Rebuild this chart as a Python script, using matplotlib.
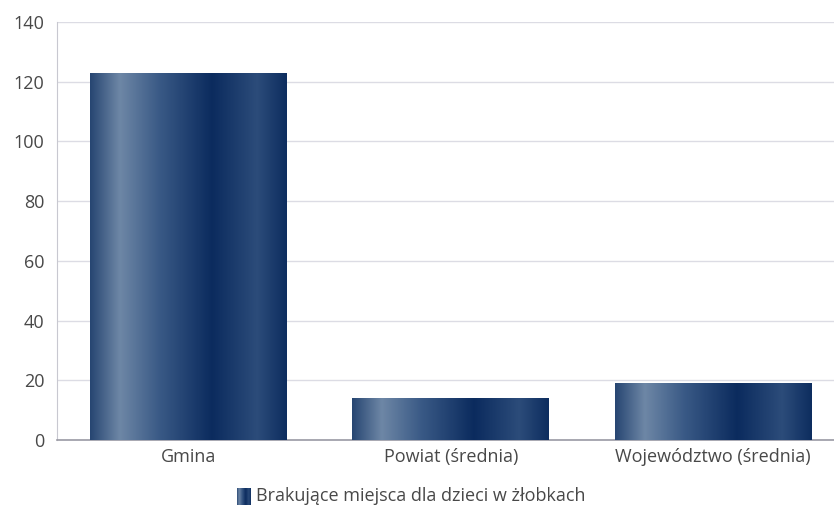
import matplotlib.pyplot as plt
import numpy as np
from matplotlib.colors import LinearSegmentedColormap

categories = ["Gmina", "Powiat (średnia)", "Województwo (średnia)"]
values = [123, 14, 19]
series_label = "Brakujące miejsca dla dzieci w żłobkach"
y_ticks = [0, 20, 40, 60, 80, 100, 120, 140]

plt.rcParams["font.family"] = ["Open Sans", "DejaVu Sans"]
TEXT = "#484848"

# metallic navy shading across each bar
shade = LinearSegmentedColormap.from_list("bar", [
    (0.00, "#274672"),
    (0.15, "#6e87a6"),
    (0.35, "#3a5a86"),
    (0.62, "#0b2b5e"),
    (0.85, "#2c4c7a"),
    (1.00, "#0d2d5f"),
])
grad = np.linspace(0, 1, 256).reshape(1, -1)

fig = plt.figure(figsize=(8.34, 5.07), dpi=100)
ax = fig.add_axes([0.0683, 0.132, 0.9317, 0.8245])

x = np.arange(len(categories))
bars = ax.bar(x, values, width=0.75, color="none", zorder=3)
for b in bars:
    x0, w, h = b.get_x(), b.get_width(), b.get_height()
    im = ax.imshow(grad, cmap=shade, aspect="auto", extent=(x0, x0 + w, 0, h),
                   zorder=3, interpolation="bicubic")
    im.set_clip_path(b)

ax.set_xlim(-0.5, 2.46)
ax.set_ylim(0, 140)
ax.set_yticks(y_ticks)
ax.set_xticks(x)
ax.set_xticklabels(categories)
ax.grid(axis="y", color="#dcdce4", linewidth=1, zorder=0)
ax.set_axisbelow(True)
ax.tick_params(axis="both", length=0, labelsize=13, labelcolor=TEXT)
ax.tick_params(axis="y", pad=9)
ax.tick_params(axis="x", pad=6)
for s in ("top", "right"):
    ax.spines[s].set_visible(False)
ax.spines["left"].set_color("#c8c8d0")
ax.spines["bottom"].set_color("#9a9aa4")
ax.spines["bottom"].set_linewidth(1.2)

# legend: small shaded swatch + label
lax = fig.add_axes([237 / 834, 1 - 505 / 507, 14 / 834, 17 / 507])
lax.imshow(grad, cmap=shade, aspect="auto", interpolation="bicubic")
lax.axis("off")
fig.text(256 / 834, 1 - 496 / 507, series_label, fontsize=13, color=TEXT,
         va="center", ha="left")

fig.savefig("out.png", dpi=100)
